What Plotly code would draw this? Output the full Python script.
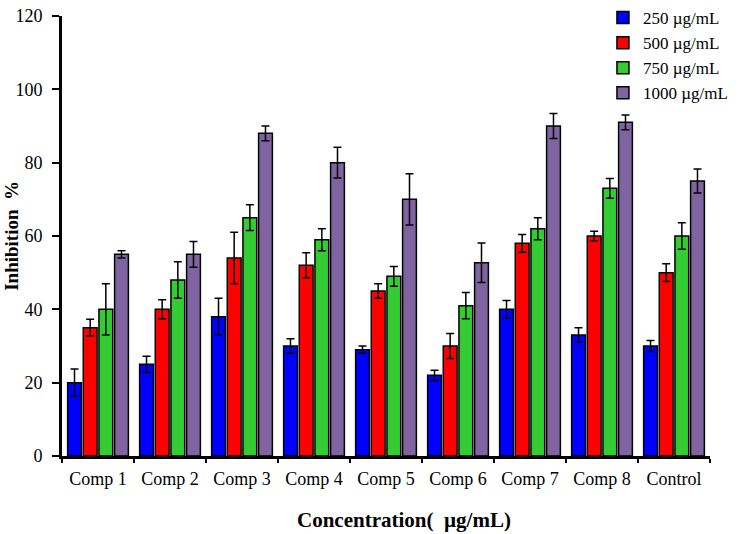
import plotly.graph_objects as go

categories = ["Comp 1", "Comp 2", "Comp 3", "Comp 4", "Comp 5", "Comp 6", "Comp 7", "Comp 8", "Control"]
series_names = ["250 µg/mL", "500 µg/mL", "750 µg/mL", "1000 µg/mL"]
colors = ["#0000FF", "#FF0000", "#33CC33", "#8064A2"]

v250 = [20, 25, 38, 30, 29, 22, 40, 33, 30]
e250 = [3.7, 2.2, 5, 2, 1, 1.4, 2.4, 2, 1.5]
v500 = [35, 40, 54, 52, 45, 30, 58, 60, 50]
e500 = [2.3, 2.6, 7, 3.4, 2, 3.4, 2.4, 1.3, 2.4]
v750 = [40, 48, 65, 59, 49, 41, 62, 73, 60]
e750 = [7, 5, 3.5, 3, 2.7, 3.6, 3, 2.7, 3.6]
v1000 = [55, 55, 88, 80, 70, 52.7, 90, 91, 75]
e1000 = [1, 3.5, 2, 4.2, 7, 5.4, 3.4, 2, 3.3]

values = [v250, v500, v750, v1000]
errors = [e250, e500, e750, e1000]

fig = go.Figure()
for name, col, v, e in zip(series_names, colors, values, errors):
    fig.add_trace(go.Bar(
        x=categories, y=v, name=name,
        marker=dict(color=col, line=dict(color="black", width=1.5)),
        error_y=dict(type="data", array=e, visible=True, color="black", thickness=1.5, width=4),
    ))

font_family = "Liberation Serif, Times New Roman, serif"
fig.update_layout(
    width=738, height=534,
    margin=dict(l=62, r=28, t=16, b=78, autoexpand=False),
    paper_bgcolor="white", plot_bgcolor="white",
    barmode="group", bargap=0.13, bargroupgap=0.12,
    font=dict(family=font_family, size=18, color="black"),
    showlegend=True,
    legend=dict(xref="container", yref="container", x=0.817, y=1.0,
                xanchor="left", yanchor="top",
                bgcolor="rgba(0,0,0,0)", font=dict(size=17, family=font_family),
                tracegroupgap=0, itemwidth=30),
    xaxis=dict(
        showline=True, linecolor="black", linewidth=3,
        ticks="outside", tickson="boundaries", ticklen=4, tickwidth=2, tickcolor="black",
        ticklabelstandoff=4, tickangle=0,
        tickfont=dict(size=18, family=font_family),
        showgrid=False, automargin=False,
    ),
    yaxis=dict(
        range=[0, 120], dtick=20,
        showline=True, linecolor="black", linewidth=3,
        ticks="outside", ticklen=7, tickwidth=2, tickcolor="black",
        ticklabelstandoff=6,
        tickfont=dict(size=18, family=font_family),
        showgrid=False, zeroline=False, automargin=False,
    ),
    annotations=[
        dict(text="<b>Concentration(&nbsp;&nbsp;µg/mL)</b>", xref="paper", yref="paper",
             x=0.528, y=-0.145, xanchor="center", yanchor="middle", showarrow=False,
             font=dict(size=21, family=font_family, color="black")),
        dict(text="<b>Inhibition&nbsp;&nbsp;%</b>", xref="paper", yref="paper",
             x=-0.079, y=0.5, xanchor="center", yanchor="middle", showarrow=False,
             textangle=-90, font=dict(size=19, family=font_family, color="black")),
    ],
)

fig.write_html("out.html", config={"displayModeBar": False},
               post_script="document.body.style.margin='0';")
